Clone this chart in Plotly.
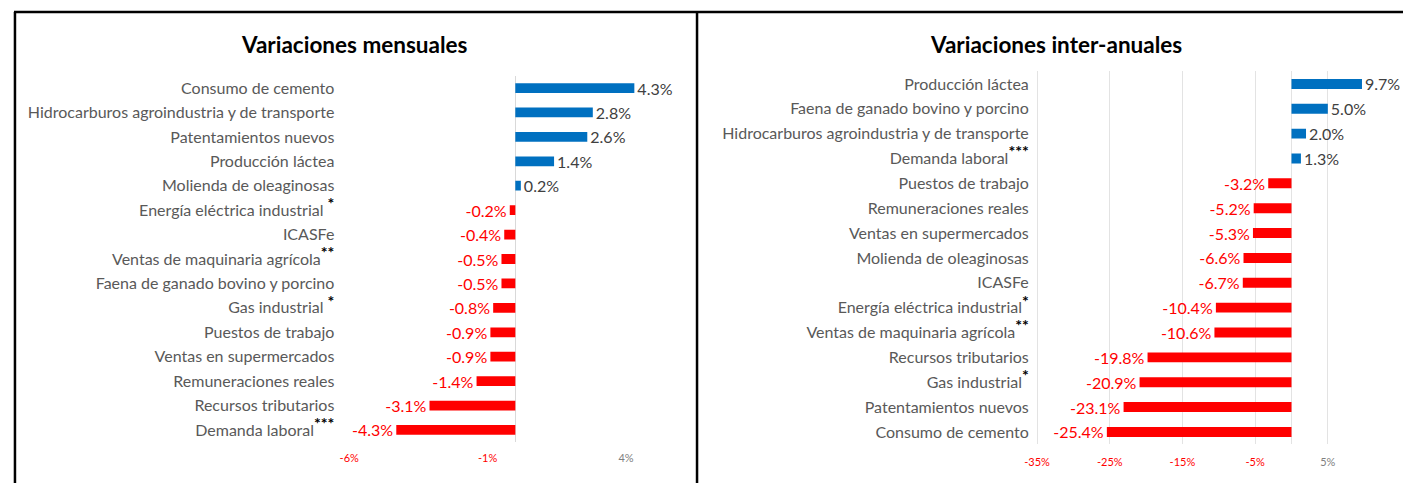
import plotly.graph_objects as go

# ---------------- data ----------------
mensual_cats = [
    "Consumo de cemento", "Hidrocarburos agroindustria y de transporte",
    "Patentamientos nuevos", "Producción láctea", "Molienda de oleaginosas",
    "Energía eléctrica industrial", "ICASFe", "Ventas de maquinaria agrícola",
    "Faena de ganado bovino y porcino", "Gas industrial", "Puestos de trabajo",
    "Ventas en supermercados", "Remuneraciones reales", "Recursos tributarios",
    "Demanda laboral",
]
mensual_vals = [4.3, 2.8, 2.6, 1.4, 0.2, -0.2, -0.4, -0.5, -0.5, -0.8, -0.9,
                -0.9, -1.4, -3.1, -4.3]
mensual_marks = ["", "", "", "", "", " *", "", "**", "", " *", "", "", "", "", "***"]

anual_cats = [
    "Producción láctea", "Faena de ganado bovino y porcino",
    "Hidrocarburos agroindustria y de transporte", "Demanda laboral",
    "Puestos de trabajo", "Remuneraciones reales", "Ventas en supermercados",
    "Molienda de oleaginosas", "ICASFe", "Energía eléctrica industrial",
    "Ventas de maquinaria agrícola", "Recursos tributarios", "Gas industrial",
    "Patentamientos nuevos", "Consumo de cemento",
]
anual_vals = [9.7, 5.0, 2.0, 1.3, -3.2, -5.2, -5.3, -6.6, -6.7, -10.4, -10.6,
              -19.8, -20.9, -23.1, -25.4]
anual_marks = ["", "", "", "***", "", "", "", "", "", "*", "**", "", "*", "", ""]

mensual_ticks = [-6, -1, 4]
anual_ticks = [-35, -25, -15, -5, 5]

titles = ["Variaciones mensuales", "Variaciones inter-anuales"]

# ---------------- styling ----------------
BLUE = "#0070C0"
RED = "#FF0000"
GRAY = "#595959"
FONT = "Lato"
W, H = 1403, 483
DX = -3  # horizontal nudge for the left panel and frame (px)


def label(cat, mark):
    if not mark:
        return cat
    sp = " " if mark.startswith(" ") else ""
    return (f"{cat}{sp}<sup><span style='color:#000000;font-size:16px'><b>"
            f"{mark.strip()}</b></span></sup>")


def tick(v):
    col = RED if v < 0 else "#7F7F7F"
    return f"<span style='color:{col}'>{v}%</span>"


fig = go.Figure()


def add_panel(cats, vals, xaxis, yaxis):
    fig.add_trace(go.Bar(
        y=cats, x=vals, orientation="h",
        marker=dict(color=[BLUE if v >= 0 else RED for v in vals], line=dict(width=0)),
        width=0.4,
        text=[f"{v:.1f}%" for v in vals],
        textposition="outside",
        textfont=dict(family=FONT, size=16,
                      color=["#404040" if v >= 0 else RED for v in vals]),
        constraintext="none", cliponaxis=False,
        xaxis=xaxis, yaxis=yaxis, showlegend=False, hoverinfo="skip",
    ))


add_panel(mensual_cats, mensual_vals, "x", "y")
add_panel(anual_cats, anual_vals, "x2", "y2")

# pixel geometry -> domains
l_zero, l_ppu = 514.5 + DX, 27.8
l_rng = [-6.5, 4.6]
l_dom = [(l_zero + l_rng[0] * l_ppu) / W, (l_zero + l_rng[1] * l_ppu) / W]
r_zero, r_ppu = 1291.0, 7.3
r_rng = [-36.0, 15.0]
r_dom = [(r_zero + r_rng[0] * r_ppu) / W, (r_zero + r_rng[1] * r_ppu) / W]

fig.update_layout(
    width=W, height=H,
    margin=dict(l=0, r=0, t=0, b=0),
    paper_bgcolor="white", plot_bgcolor="white",
    font=dict(family=FONT, color=GRAY, size=16),
    xaxis=dict(domain=l_dom, range=l_rng, tickvals=mensual_ticks,
               ticktext=[tick(v) for v in mensual_ticks],
               tickfont=dict(size=11), showgrid=False, zeroline=True,
               zerolinecolor="#D9D9D9", zerolinewidth=1, showline=False,
               ticks="", ticklabelstandoff=8, anchor="y"),
    yaxis=dict(domain=[0.0845, 0.843], autorange="reversed",
               tickvals=mensual_cats,
               ticktext=[label(c, m) for c, m in zip(mensual_cats, mensual_marks)],
               tickfont=dict(size=16, color=GRAY), showgrid=False, showline=False,
               ticks="", anchor="x", zeroline=False),
    xaxis2=dict(domain=r_dom, range=r_rng, tickvals=anual_ticks,
                ticktext=[tick(v) for v in anual_ticks],
                tickfont=dict(size=11), showgrid=True, gridcolor="#E3E3E3",
                zeroline=True, zerolinecolor="#E3E3E3", zerolinewidth=1,
                showline=False, ticks="", ticklabelstandoff=10, anchor="y2"),
    yaxis2=dict(domain=[0.080, 0.852], autorange="reversed",
                tickvals=anual_cats,
                ticktext=[label(c, m) for c, m in zip(anual_cats, anual_marks)],
                tickfont=dict(size=16, color=GRAY), showgrid=False, showline=False,
                ticks="", anchor="x2", zeroline=False),
)

# titles
for txt, xc in zip(titles, [(353 + DX) / W, 1055 / W]):
    fig.add_annotation(text=f"<b>{txt}</b>", x=xc, y=1 - 45 / H, xref="paper", yref="paper",
                       showarrow=False, font=dict(family=FONT, size=22.5, color="#000000"),
                       xanchor="center", yanchor="middle")

# frame lines
frame = dict(color="#000000", width=2.5)
fig.add_shape(type="line", xref="paper", yref="paper", x0=(11 + DX) / W, x1=1,
              y0=1 - 12 / H, y1=1 - 12 / H, line=frame)
fig.add_shape(type="line", xref="paper", yref="paper", x0=(12 + DX) / W, x1=(12 + DX) / W,
              y0=0, y1=1 - 12 / H, line=frame)
fig.add_shape(type="line", xref="paper", yref="paper", x0=(697 + DX) / W, x1=(697 + DX) / W,
              y0=0, y1=1 - 12 / H, line=frame)

fig.write_html("out.html", config={"displayModeBar": False},
               post_script="document.body.style.margin='0px';document.body.style.overflow='hidden';")
